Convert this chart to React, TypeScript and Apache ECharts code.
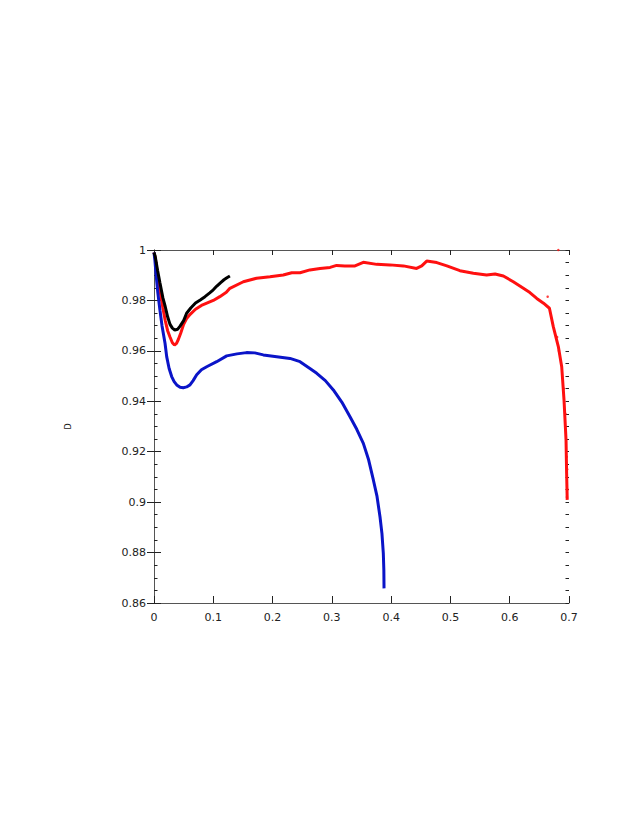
import React, { useEffect, useRef } from "react";
import * as echarts from "echarts";

const blackX = [0, 0.002, 0.006, 0.010, 0.015, 0.019, 0.023, 0.027, 0.031, 0.035, 0.040, 0.044, 0.050, 0.055, 0.062, 0.070, 0.078, 0.086, 0.094, 0.100, 0.106, 0.112, 0.118, 0.123, 0.128];
const blackD = [0.999, 0.9975, 0.992, 0.987, 0.981, 0.9775, 0.9735, 0.9705, 0.969, 0.9683, 0.9686, 0.9698, 0.972, 0.9749, 0.977, 0.979, 0.9802, 0.9815, 0.983, 0.9842, 0.9857, 0.987, 0.9882, 0.989, 0.9897];

const redX = [0, 0.002, 0.006, 0.010, 0.015, 0.019, 0.023, 0.027, 0.031, 0.0345, 0.038, 0.041, 0.045, 0.050, 0.055, 0.061, 0.070, 0.080, 0.089, 0.100, 0.111, 0.122, 0.128, 0.1507, 0.173, 0.1957, 0.218, 0.2323, 0.2463, 0.263, 0.28, 0.297, 0.308, 0.322, 0.339, 0.353, 0.3757, 0.398, 0.4207, 0.443, 0.4516, 0.46, 0.477, 0.494, 0.516, 0.5387, 0.561, 0.5753, 0.5893, 0.606, 0.623, 0.634, 0.6456, 0.657, 0.667, 0.6735, 0.682, 0.6877, 0.6916, 0.695, 0.696, 0.697];
const redD = [0.999, 0.997, 0.99, 0.984, 0.977, 0.972, 0.968, 0.9655, 0.9632, 0.9623, 0.963, 0.9645, 0.967, 0.9705, 0.9728, 0.9745, 0.9765, 0.978, 0.9789, 0.980, 0.9815, 0.9832, 0.9848, 0.9874, 0.9888, 0.9894, 0.9901, 0.991, 0.991, 0.9921, 0.9927, 0.9931, 0.9939, 0.9937, 0.9937, 0.9951, 0.9943, 0.9941, 0.9937, 0.9927, 0.9937, 0.9956, 0.995, 0.9937, 0.9918, 0.9908, 0.9901, 0.9905, 0.9897, 0.9874, 0.9848, 0.9831, 0.9808, 0.9789, 0.9769, 0.9696, 0.9617, 0.9537, 0.9405, 0.9246, 0.9114, 0.9009];

const redStrayX = [0.682, 0.664, 0.68, 0.683, 0.691, 0.694, 0.696, 0.697, 0.6975, 0.6965];
const redStrayD = [1.0, 0.9815, 0.9655, 0.960, 0.945, 0.935, 0.918, 0.913, 0.905, 0.902];

const blueX = [0, 0.0015, 0.0034, 0.0065, 0.0101, 0.0135, 0.0186, 0.0214, 0.0255, 0.0298, 0.0340, 0.0383, 0.0440, 0.0495, 0.0550, 0.0607, 0.066, 0.072, 0.080, 0.0889, 0.1057, 0.1226, 0.14, 0.156, 0.17, 0.1844, 0.207, 0.2294, 0.2463, 0.263, 0.2745, 0.289, 0.3025, 0.317, 0.3306, 0.342, 0.3531, 0.362, 0.37, 0.376, 0.3812, 0.3845, 0.3868, 0.3877, 0.388];
const blueD = [0.999, 0.996, 0.9905, 0.983, 0.976, 0.970, 0.963, 0.9577, 0.953, 0.9498, 0.9478, 0.9465, 0.9456, 0.9454, 0.9457, 0.9465, 0.9482, 0.9505, 0.9525, 0.9537, 0.9557, 0.958, 0.9588, 0.9593, 0.9592, 0.9584, 0.9577, 0.957, 0.9557, 0.953, 0.9511, 0.9482, 0.9445, 0.9396, 0.9339, 0.9289, 0.9233, 0.9168, 0.9088, 0.9025, 0.8942, 0.8875, 0.8797, 0.873, 0.8658];

const xTicks = { min: 0, max: 0.7, interval: 0.1 };
const yTicks = { min: 0.86, max: 1, interval: 0.02 };
const yMinor = { min: 0.86, max: 1, interval: 0.005 };

const zip = (xs: number[], ys: number[]) => xs.map((x, i) => [x, ys[i]]);

const axisColor = "#555";
const labelFont = { fontFamily: "DejaVu Sans", fontSize: 11, color: "#222" };

const minorAxis = (position: string) => ({
  type: "value",
  position,
  ...yMinor,
  axisLine: { show: false },
  axisTick: { show: true, inside: true, length: 3.5, lineStyle: { color: "#222" } },
  axisLabel: { show: false },
  splitLine: { show: false },
});

export default function App() {
  const ref = useRef<HTMLDivElement>(null);
  useEffect(() => {
    if (!ref.current) return;
    const chart = echarts.init(ref.current, null, { renderer: "svg" });
    chart.setOption({
      animation: false,
      backgroundColor: "#fff",
      grid: { left: 154, right: 64, top: 250, bottom: 216 },
      xAxis: [
        {
          type: "value",
          position: "bottom",
          ...xTicks,
          axisLine: { show: true, lineStyle: { color: axisColor } },
          axisTick: { show: true, inside: true, length: 7, lineStyle: { color: "#222" } },
          axisLabel: { ...labelFont, margin: 9 },
          splitLine: { show: false },
        },
        {
          type: "value",
          position: "top",
          ...xTicks,
          axisLine: { show: true, lineStyle: { color: axisColor } },
          axisTick: { show: true, inside: true, length: 5, lineStyle: { color: "#222" } },
          axisLabel: { show: false },
          splitLine: { show: false },
        },
      ],
      yAxis: [
        {
          type: "value",
          position: "left",
          ...yTicks,
          name: "D",
          nameLocation: "middle",
          nameRotate: 90,
          nameGap: 82,
          nameTextStyle: { fontFamily: "DejaVu Sans", fontSize: 8, color: "#222" },
          axisLine: { show: true, lineStyle: { color: axisColor } },
          axisTick: { show: true, inside: true, length: 7, lineStyle: { color: "#222" } },
          axisLabel: { ...labelFont, margin: 8 },
          splitLine: { show: false },
        },
        {
          type: "value",
          position: "right",
          ...yTicks,
          axisLine: { show: true, lineStyle: { color: axisColor } },
          axisTick: { show: true, inside: true, length: 7, lineStyle: { color: "#222" } },
          axisLabel: { show: false },
          splitLine: { show: false },
        },
        minorAxis("left"),
        minorAxis("right"),
      ],
      series: [
        {
          type: "line",
          data: zip(redX, redD),
          showSymbol: false,
          lineStyle: { color: "#ff1010", width: 3 },
          itemStyle: { color: "#ff1010" },
        },
        {
          type: "scatter",
          data: zip(redStrayX, redStrayD),
          symbolSize: 2.5,
          itemStyle: { color: "#ff1010" },
        },
        {
          type: "line",
          data: zip(blueX, blueD),
          showSymbol: false,
          lineStyle: { color: "#0a14c8", width: 3 },
          itemStyle: { color: "#0a14c8" },
        },
        {
          type: "line",
          data: zip(blackX, blackD),
          showSymbol: false,
          lineStyle: { color: "#000", width: 3 },
          itemStyle: { color: "#000" },
        },
      ],
    });
    return () => chart.dispose();
  }, []);
  return (
    <div
      ref={ref}
      style={{ position: "absolute", left: 0, top: 0, width: 633, height: 819 }}
    />
  );
}
